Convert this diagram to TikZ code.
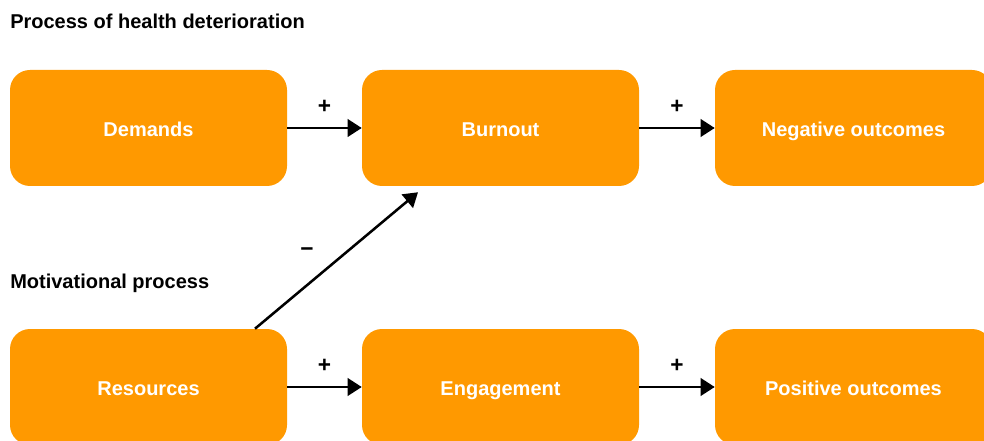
\documentclass[tikz,border=0pt]{standalone}
\usepackage{fontspec}
\setmainfont{Liberation Sans}
\usetikzlibrary{arrows.meta,calc}
\definecolor{boxorange}{HTML}{FF9900}

\begin{document}
\begin{tikzpicture}[x=0.75pt,y=0.75pt,yscale=-1,xscale=1,
  procbox/.style={fill=boxorange, rounded corners=15pt, minimum width=207.75pt,
    minimum height=87pt, inner sep=0pt, text=white, text height=12.5pt, text depth=0pt,
    font=\fontsize{15}{17}\selectfont\bfseries},
  flow/.style={line width=1.9pt, -{Triangle[length=10.5pt,width=13pt]}},
  sign/.style={inner sep=0.75pt, font=\fontsize{17}{19}\selectfont\bfseries},
  heading/.style={anchor=west, inner sep=0pt, font=\fontsize{15}{17}\selectfont\bfseries}]
\useasboundingbox (0,0) rectangle (984,441);
% Text Node
\node[heading] (healthtitle) at (10,21) {Process of health deterioration};
% Text Node
\node[heading] (motivtitle) at (10,283) {Motivational process};
% top row
\node[procbox] (demands) at (148.5,128) {Demands};
\node[procbox] (burnout) at (500.5,128) {Burnout};
\node[procbox] (negative) at (853.5,128) {Negative outcomes};
% bottom row
\node[procbox] (resources) at (148.5,387) {Resources};
\node[procbox] (engagement) at (500.5,387) {Engagement};
\node[procbox] (positive) at (853.5,387) {Positive outcomes};
\draw[flow] (demands) -- node[sign, above=9pt] {+} (burnout);
\draw[flow] (burnout) -- node[sign, above=9pt] {+} (negative);
\draw[flow] (resources) -- node[sign, above=9pt] {+} (engagement);
\draw[flow] (engagement) -- node[sign, above=9pt] {+} (positive);
\draw[flow] ($(resources.north)+(106.5,0)$) -- ($(burnout.south)+(-82.5,6)$);
% Text Node
\node[sign] (minus) at (307,252) {−};
\end{tikzpicture}
\end{document}
